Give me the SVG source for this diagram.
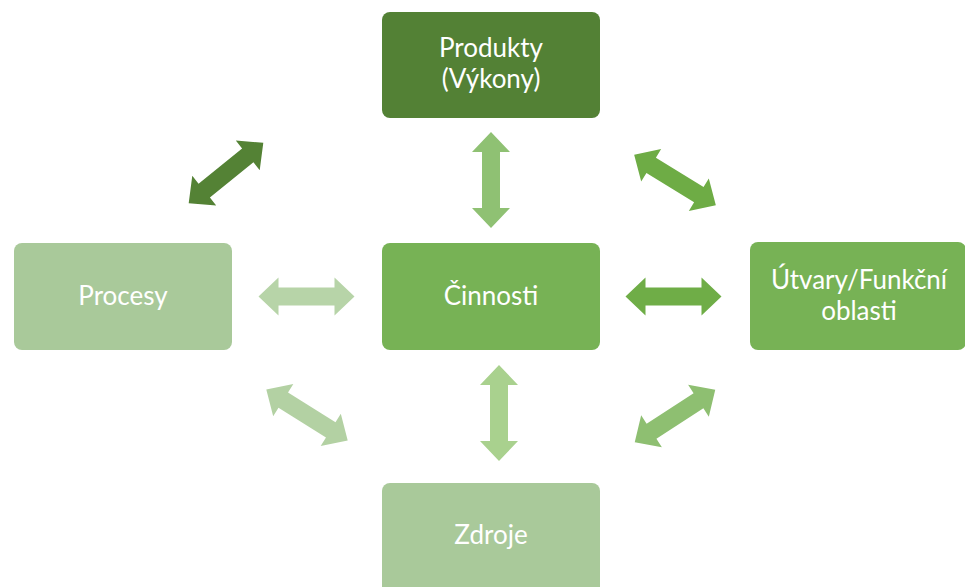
<svg xmlns="http://www.w3.org/2000/svg" xmlns:xlink="http://www.w3.org/1999/xlink" width="965" height="587" viewBox="0 0 965 587">
  <style>
    .box { stroke: none; }
    .lbl { font-family: Lato, "Open Sans", "Liberation Sans", sans-serif; font-size: 26px; fill: #ffffff; text-anchor: middle; }
  </style>
  <defs>
    <!-- double-headed block arrow, centred on the origin, pointing along x -->
    <path id="dblArrow" d="M -48 0 L -28 -19 L -28 -9 L 28 -9 L 28 -19 L 48 0 L 28 19 L 28 9 L -28 9 L -28 19 Z"/>
  </defs>
  <rect width="965" height="587" fill="#ffffff"/>

  <g id="connectors">
    <use xlink:href="#dblArrow" fill="#548235" transform="translate(226,173) rotate(-39)"/>
    <use xlink:href="#dblArrow" fill="#6EAC45" transform="translate(675,180) rotate(31.7)"/>
    <use xlink:href="#dblArrow" fill="#8FC173" transform="translate(491,180) rotate(90)"/>
    <use xlink:href="#dblArrow" fill="#B7D4A8" transform="translate(306.5,296.5)"/>
    <use xlink:href="#dblArrow" fill="#6FAD47" transform="translate(673.5,296.5)"/>
    <use xlink:href="#dblArrow" fill="#A9D18E" transform="translate(499,413) rotate(90)"/>
    <use xlink:href="#dblArrow" fill="#B3D1A3" transform="translate(307,415) rotate(32)"/>
    <use xlink:href="#dblArrow" fill="#8EBF71" transform="translate(675,416) rotate(-33)"/>
  </g>

  <g id="produkty">
    <rect class="box" x="382" y="12" width="218" height="106" rx="8" fill="#538135"/>
    <text class="lbl" x="491" y="57">Produkty</text>
    <text class="lbl" x="491" y="88">(Výkony)</text>
  </g>

  <g id="procesy">
    <rect class="box" x="14" y="243" width="218" height="107" rx="8" fill="#A9C99A"/>
    <text class="lbl" x="123" y="305">Procesy</text>
  </g>

  <g id="cinnosti">
    <rect class="box" x="382" y="243" width="218" height="107" rx="8" fill="#77B255"/>
    <text class="lbl" x="491" y="305">Činnosti</text>
  </g>

  <g id="utvary">
    <rect class="box" x="750" y="242" width="216" height="108" rx="8" fill="#77B255"/>
    <text class="lbl" x="859" y="289">Útvary/Funkční</text>
    <text class="lbl" x="859" y="320">oblasti</text>
  </g>

  <g id="zdroje">
    <rect class="box" x="382" y="483" width="218" height="112" rx="8" fill="#A9C99A"/>
    <text class="lbl" x="491" y="544">Zdroje</text>
  </g>
</svg>
